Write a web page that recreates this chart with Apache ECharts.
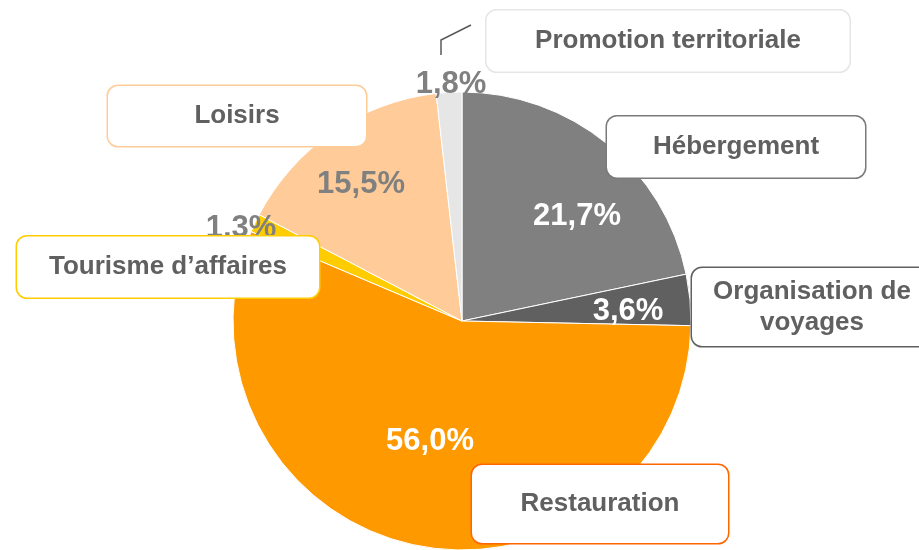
<!DOCTYPE html>
<html>
<head>
<meta charset="utf-8">
<script src="https://cdn.jsdelivr.net/npm/echarts@6/dist/echarts.min.js"></script>
<style>
  html, body { margin: 0; padding: 0; background: #fff; }
  #main { width: 919px; height: 550px; }
</style>
</head>
<body>
<div id="main"></div>
<script>
// données
var categories = ["Hébergement", "Organisation de\nvoyages", "Restauration", "Tourisme d\u2019affaires", "Loisirs", "Promotion territoriale"];
var values = [21.7, 3.6, 56.0, 1.3, 15.5, 1.8];

var sliceColors = ["#808080", "#606060", "#FF9900", "#FFCC00", "#FFCC99", "#E6E6E6"];
var pctColors = ["#fff", "#fff", "#fff", "#808080", "#808080", "#808080"];
var boxBorders = ["#7a7a7a", "#606060", "#FF6600", "#FFCC00", "#FFCC99", "#E6E6E6"];

// position des étiquettes (centre)
var pctPos = [[577, 216], [628, 311], [430, 441], [241, 228], [361, 184], [451, 84]];
var boxPos = [[736, 147], [812, 307], [600, 504], [168, 267], [237, 116], [668, 41]];
var boxSize = [[258, 61], [240, 78], [256, 78], [302, 61], [258, 60], [363, 61]];

var FONT = "'Liberation Sans', Arial, sans-serif";

var chart = echarts.init(document.getElementById("main"));

function fmt(v) {
  return v.toFixed(1).replace(".", ",") + "%";
}

var pctData = categories.map(function (c, i) {
  return {
    name: c,
    value: values[i],
    itemStyle: { color: sliceColors[i] },
    label: { color: pctColors[i] }
  };
});

var nameData = categories.map(function (c, i) {
  var multi = c.indexOf("\n") >= 0;
  return {
    name: c,
    value: values[i],
    label: {
      width: boxSize[i][0],
      lineHeight: multi ? 31 : boxSize[i][1] - 4,
      padding: multi ? [9, 0, 7, 0] : [4, 0, 0, 0],
      borderColor: boxBorders[i]
    }
  };
});

chart.setOption({
  animation: false,
  series: [{
    type: "pie",
    center: [462, 321],
    radius: 229,
    startAngle: 90,
    clockwise: true,
    silent: true,
    itemStyle: { borderColor: "#fff", borderWidth: 1 },
    label: {
      show: true,
      position: "inside",
      formatter: function (p) { return fmt(p.value); },
      fontFamily: FONT,
      fontWeight: "bold",
      fontSize: 31
    },
    labelLine: { show: false },
    labelLayout: function (p) {
      var pos = pctPos[p.dataIndex];
      return { x: pos[0], y: pos[1], align: "center", verticalAlign: "middle" };
    },
    data: pctData
  }, {
    // boîtes des catégories
    type: "pie",
    center: [462, 321],
    radius: 229,
    startAngle: 90,
    silent: true,
    itemStyle: { color: "rgba(0,0,0,0)" },
    label: {
      show: true,
      position: "inside",
      formatter: "{b}",
      color: "#606060",
      fontFamily: FONT,
      fontWeight: "bold",
      fontSize: 26,
      align: "center",
      backgroundColor: "#fff",
      borderWidth: 1.5,
      borderRadius: 10
    },
    labelLine: { show: false },
    labelLayout: function (p) {
      var pos = boxPos[p.dataIndex];
      return { x: pos[0], y: pos[1], align: "center", verticalAlign: "middle" };
    },
    data: nameData
  }],
  graphic: [{
    type: "polyline",
    shape: { points: [[441, 55], [441, 40], [471, 25]] },
    style: { stroke: "#595959", lineWidth: 1.5, fill: null }
  }]
});
</script>
</body>
</html>
